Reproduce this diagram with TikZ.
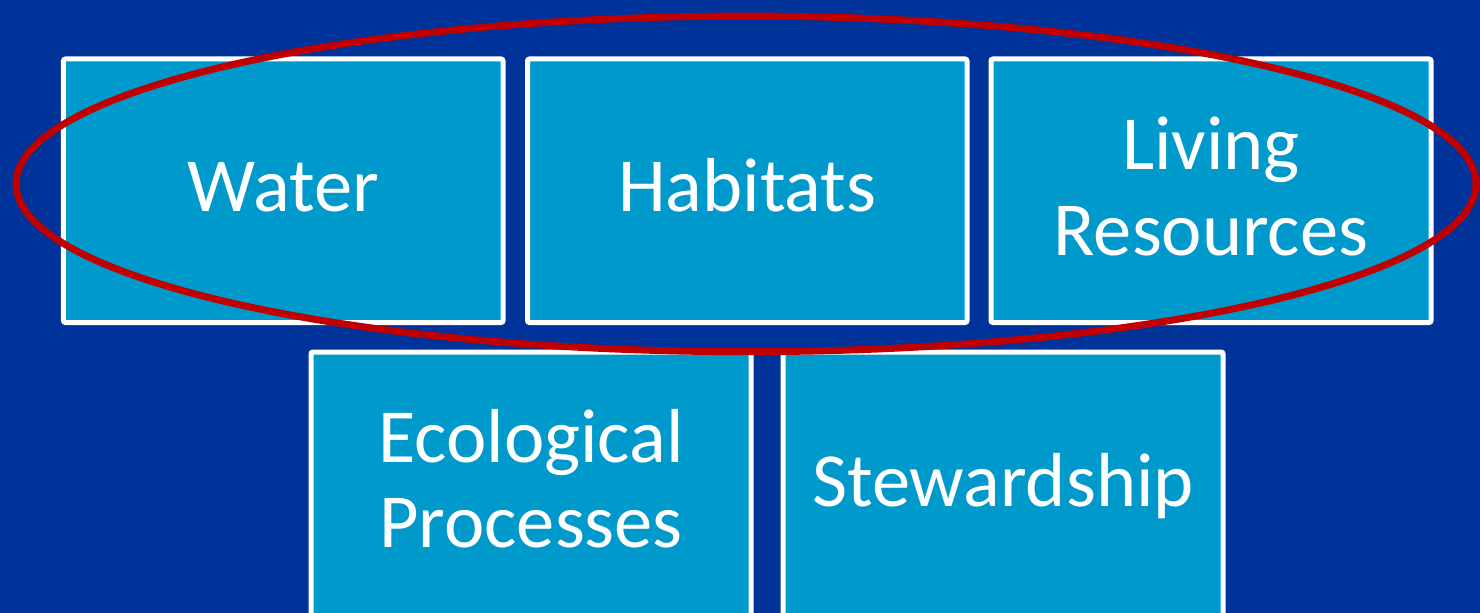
\documentclass[tikz,border=0pt]{standalone}
\usepackage{fontspec}
\setmainfont{Carlito}
\definecolor{bgblue}{HTML}{003399}
\definecolor{boxblue}{HTML}{0099CC}
\definecolor{ringred}{HTML}{C00000}
\begin{document}
\begin{tikzpicture}[x=1bp,y=-1bp,
  tile/.style={draw=white, line width=5bp, fill=boxblue, rounded corners=2bp, inner sep=0pt, outer sep=0pt},
  lbl/.style={text=white, font=\fontsize{76.5bp}{85bp}\selectfont, align=center, anchor=base, inner sep=0pt},
  ring/.style={draw=ringred, line width=7bp}]
\useasboundingbox (0,0) rectangle (1480,613);
\clip (0,0) rectangle (1480,613);
\fill[bgblue] (0,0) rectangle (1480,613);
% top row
\node[tile, minimum width=439.5bp, minimum height=263.5bp] (water) at (283.25,190.75) {};
\node[tile, minimum width=439.5bp, minimum height=263.5bp] (habitats) at (747.25,190.75) {};
\node[tile, minimum width=440bp, minimum height=263.5bp] (living) at (1211,190.75) {};
% bottom row
\node[tile, minimum width=440bp, minimum height=308bp] (eco) at (531,506) {};
\node[tile, minimum width=440bp, minimum height=308bp] (stew) at (1003,506) {};
% labels
\node[lbl] (waterlbl) at (283.25,212) {Water};
\node[lbl] (habitatslbl) at (747.25,212) {Habitats};
\node[lbl] (livinglbl) at (1211,255) {Living\\Resources};
\node[lbl] (ecolbl) at (531,547.3) {Ecological\\Processes};
\node[lbl] (stewlbl) at (1003,506) {Stewardship};
% highlight ring
\draw[ring] (746,183.9) ellipse [x radius=730, y radius=167.8];
\end{tikzpicture}
\end{document}
